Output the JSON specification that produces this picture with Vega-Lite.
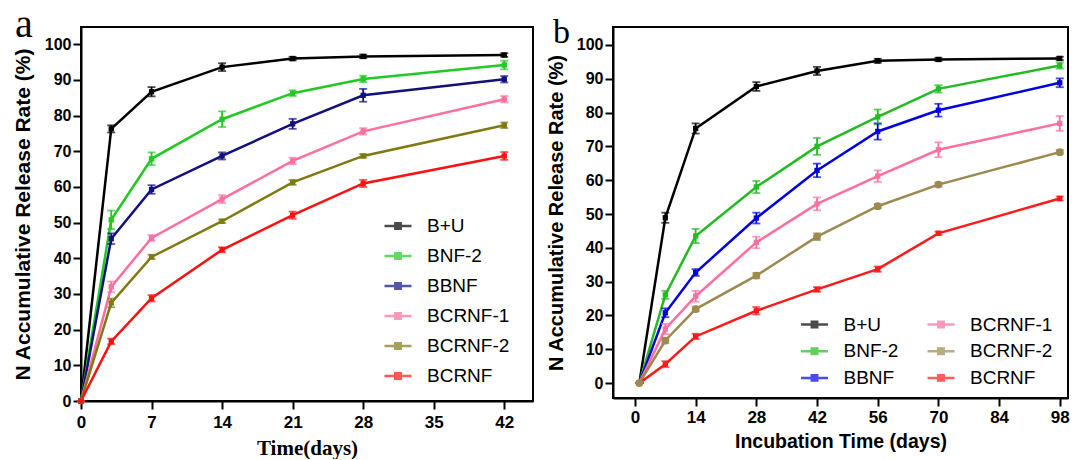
{
  "$schema": "https://vega.github.io/schema/vega-lite/v6.json",
  "padding": {"left": 11, "top": 3, "right": 5, "bottom": 0},
  "spacing": 11,
  "background": "white",
  "resolve": {"scale": {"color": "independent"}, "legend": {"color": "independent"}},
  "datasets": {
    "a": [
      {"s": "B+U", "t": 0, "v": 0, "e": 0}, {"s": "B+U", "t": 3, "v": 76.3, "e": 1.0}, {"s": "B+U", "t": 7, "v": 86.7, "e": 1.3}, {"s": "B+U", "t": 14, "v": 93.6, "e": 1.1}, {"s": "B+U", "t": 21, "v": 96.0, "e": 0.5}, {"s": "B+U", "t": 28, "v": 96.6, "e": 0.5}, {"s": "B+U", "t": 42, "v": 97.0, "e": 0.5},
      {"s": "BNF-2", "t": 0, "v": 0, "e": 0}, {"s": "BNF-2", "t": 3, "v": 50.8, "e": 2.6}, {"s": "BNF-2", "t": 7, "v": 67.9, "e": 1.8}, {"s": "BNF-2", "t": 14, "v": 79.0, "e": 2.2}, {"s": "BNF-2", "t": 21, "v": 86.3, "e": 0.8}, {"s": "BNF-2", "t": 28, "v": 90.3, "e": 0.9}, {"s": "BNF-2", "t": 42, "v": 94.2, "e": 1.2},
      {"s": "BBNF", "t": 0, "v": 0, "e": 0}, {"s": "BBNF", "t": 3, "v": 45.5, "e": 1.5}, {"s": "BBNF", "t": 7, "v": 59.3, "e": 1.2}, {"s": "BBNF", "t": 14, "v": 68.7, "e": 1.0}, {"s": "BBNF", "t": 21, "v": 77.7, "e": 1.4}, {"s": "BBNF", "t": 28, "v": 85.7, "e": 1.8}, {"s": "BBNF", "t": 42, "v": 90.2, "e": 0.9},
      {"s": "BCRNF-1", "t": 0, "v": 0, "e": 0}, {"s": "BCRNF-1", "t": 3, "v": 32.0, "e": 1.5}, {"s": "BCRNF-1", "t": 7, "v": 45.7, "e": 0.8}, {"s": "BCRNF-1", "t": 14, "v": 56.6, "e": 1.1}, {"s": "BCRNF-1", "t": 21, "v": 67.3, "e": 0.9}, {"s": "BCRNF-1", "t": 28, "v": 75.6, "e": 0.9}, {"s": "BCRNF-1", "t": 42, "v": 84.6, "e": 0.9},
      {"s": "BCRNF-2", "t": 0, "v": 0, "e": 0}, {"s": "BCRNF-2", "t": 3, "v": 27.5, "e": 1.2}, {"s": "BCRNF-2", "t": 7, "v": 40.4, "e": 0.6}, {"s": "BCRNF-2", "t": 14, "v": 50.4, "e": 0.5}, {"s": "BCRNF-2", "t": 21, "v": 61.3, "e": 0.7}, {"s": "BCRNF-2", "t": 28, "v": 68.7, "e": 0.5}, {"s": "BCRNF-2", "t": 42, "v": 77.3, "e": 0.8},
      {"s": "BCRNF", "t": 0, "v": 0, "e": 0}, {"s": "BCRNF", "t": 3, "v": 16.7, "e": 0.8}, {"s": "BCRNF", "t": 7, "v": 28.8, "e": 0.9}, {"s": "BCRNF", "t": 14, "v": 42.4, "e": 0.7}, {"s": "BCRNF", "t": 21, "v": 52.1, "e": 1.0}, {"s": "BCRNF", "t": 28, "v": 61.0, "e": 1.0}, {"s": "BCRNF", "t": 42, "v": 68.7, "e": 1.1}
    ],
    "b": [
      {"s": "B+U", "t": 1, "v": 0, "e": 0}, {"s": "B+U", "t": 7, "v": 48.9, "e": 1.5}, {"s": "B+U", "t": 14, "v": 75.3, "e": 1.5}, {"s": "B+U", "t": 28, "v": 87.7, "e": 1.3}, {"s": "B+U", "t": 42, "v": 92.3, "e": 1.2}, {"s": "B+U", "t": 56, "v": 95.3, "e": 0.6}, {"s": "B+U", "t": 70, "v": 95.7, "e": 0.5}, {"s": "B+U", "t": 98, "v": 96.0, "e": 0.5},
      {"s": "BNF-2", "t": 1, "v": 0, "e": 0}, {"s": "BNF-2", "t": 7, "v": 26.1, "e": 1.2}, {"s": "BNF-2", "t": 14, "v": 43.5, "e": 2.1}, {"s": "BNF-2", "t": 28, "v": 58.0, "e": 1.8}, {"s": "BNF-2", "t": 42, "v": 70.0, "e": 2.5}, {"s": "BNF-2", "t": 56, "v": 78.7, "e": 2.2}, {"s": "BNF-2", "t": 70, "v": 87.0, "e": 1.1}, {"s": "BNF-2", "t": 98, "v": 93.9, "e": 0.9},
      {"s": "BBNF", "t": 1, "v": 0, "e": 0}, {"s": "BBNF", "t": 7, "v": 20.8, "e": 1.3}, {"s": "BBNF", "t": 14, "v": 32.7, "e": 1.0}, {"s": "BBNF", "t": 28, "v": 48.8, "e": 1.6}, {"s": "BBNF", "t": 42, "v": 62.9, "e": 2.0}, {"s": "BBNF", "t": 56, "v": 74.4, "e": 2.4}, {"s": "BBNF", "t": 70, "v": 80.7, "e": 1.9}, {"s": "BBNF", "t": 98, "v": 88.8, "e": 1.3},
      {"s": "BCRNF-1", "t": 1, "v": 0, "e": 0}, {"s": "BCRNF-1", "t": 7, "v": 16.0, "e": 1.5}, {"s": "BCRNF-1", "t": 14, "v": 25.7, "e": 1.6}, {"s": "BCRNF-1", "t": 28, "v": 41.6, "e": 1.7}, {"s": "BCRNF-1", "t": 42, "v": 53.0, "e": 1.9}, {"s": "BCRNF-1", "t": 56, "v": 61.2, "e": 1.7}, {"s": "BCRNF-1", "t": 70, "v": 69.0, "e": 2.2}, {"s": "BCRNF-1", "t": 98, "v": 76.8, "e": 2.2},
      {"s": "BCRNF-2", "t": 1, "v": 0, "e": 0}, {"s": "BCRNF-2", "t": 7, "v": 12.6, "e": 0.8}, {"s": "BCRNF-2", "t": 14, "v": 21.9, "e": 0.7}, {"s": "BCRNF-2", "t": 28, "v": 31.8, "e": 0.8}, {"s": "BCRNF-2", "t": 42, "v": 43.3, "e": 1.0}, {"s": "BCRNF-2", "t": 56, "v": 52.3, "e": 0.6}, {"s": "BCRNF-2", "t": 70, "v": 58.7, "e": 0.6}, {"s": "BCRNF-2", "t": 98, "v": 68.3, "e": 0.6},
      {"s": "BCRNF", "t": 1, "v": 0, "e": 0}, {"s": "BCRNF", "t": 7, "v": 5.6, "e": 0.9}, {"s": "BCRNF", "t": 14, "v": 13.8, "e": 0.8}, {"s": "BCRNF", "t": 28, "v": 21.4, "e": 1.1}, {"s": "BCRNF", "t": 42, "v": 27.7, "e": 0.7}, {"s": "BCRNF", "t": 56, "v": 33.7, "e": 0.8}, {"s": "BCRNF", "t": 70, "v": 44.3, "e": 0.5}, {"s": "BCRNF", "t": 98, "v": 54.6, "e": 0.6}
    ]
  },
  "hconcat": [
    {
      "width": 452,
      "height": 374,
      "data": {"name": "a"},
      "title": {"text": "a", "font": "Liberation Serif", "fontSize": 40, "fontWeight": "normal", "color": "black", "anchor": "start", "frame": "group", "offset": 0, "baseline": "alphabetic", "dx": -66, "dy": 49.5},
      "encoding": {
        "x": {"field": "t", "type": "quantitative", "scale": {"domain": [0, 44.85], "nice": false, "zero": false},
              "axis": {"values": [0, 7, 14, 21, 28, 35, 42], "title": "Time(days)", "titleFont": "Liberation Serif", "titleFontSize": 21, "titlePadding": 7, "labelFontSize": 17, "labelPadding": 5, "labelFlush": false}},
        "y": {"field": "v", "type": "quantitative", "scale": {"domain": [0, 104.85], "nice": false, "zero": false},
              "axis": {"values": [0, 10, 20, 30, 40, 50, 60, 70, 80, 90, 100], "title": "N Accumulative Release Rate (%)", "titleFontSize": 21, "titlePadding": 11, "labelPadding": 2, "labelFlush": false}},
        "color": {"field": "s", "type": "nominal",
                  "scale": {"domain": ["B+U", "BNF-2", "BBNF", "BCRNF-1", "BCRNF-2", "BCRNF"], "range": ["#000000", "#22c922", "#10107e", "#ff6f9f", "#7f7a10", "#ff1010"]}}
      },
      "layer": [
        {"mark": {"type": "line", "strokeWidth": 2.5, "clip": false},
         "encoding": {"color": {"field": "s", "type": "nominal", "legend": {"orient": "none", "legendX": 302, "legendY": 184, "title": null, "rowPadding": 5, "symbolType": "M-1,0H1M-0.2,-0.2H0.2V0.2H-0.2Z"}}}},
        {"mark": {"type": "errorbar", "ticks": {"size": 8, "thickness": 1.8}, "thickness": 1.8},
         "encoding": {"yError": {"field": "e"}}},
        {"mark": {"type": "point", "shape": "square", "filled": true, "size": 28, "opacity": 1, "clip": false}}
      ]
    },
    {
      "width": 455,
      "height": 371,
      "data": {"name": "b"},
      "title": {"text": "b", "font": "Liberation Serif", "fontSize": 34, "fontWeight": "normal", "color": "black", "anchor": "start", "frame": "group", "offset": 0, "baseline": "alphabetic", "dx": -60, "dy": 49.5},
      "encoding": {
        "x": {"field": "t", "type": "quantitative", "scale": {"domain": [-5.07, 99.9], "nice": false, "zero": false},
              "axis": {"values": [0, 14, 28, 42, 56, 70, 84, 98], "title": "Incubation Time (days)", "titleFontSize": 19.5, "titlePadding": 7, "labelFontSize": 17, "labelPadding": 3, "labelFlush": false}},
        "y": {"field": "v", "type": "quantitative", "scale": {"domain": [-4.4, 105.3], "nice": false, "zero": false},
              "axis": {"values": [0, 10, 20, 30, 40, 50, 60, 70, 80, 90, 100], "title": "N Accumulative Release Rate (%)", "titleFontSize": 20, "titlePadding": 9.5, "labelPadding": 2, "labelFlush": false}},
        "color": {"field": "s", "type": "nominal",
                  "scale": {"domain": ["B+U", "BNF-2", "BBNF", "BCRNF-1", "BCRNF-2", "BCRNF"], "range": ["#000000", "#22bb22", "#0000e0", "#ff6f9f", "#9c8a50", "#ff1a1a"]}}
      },
      "layer": [
        {"mark": {"type": "line", "strokeWidth": 2.5},
         "encoding": {"color": {"field": "s", "type": "nominal", "legend": {"orient": "none", "legendX": 186.5, "legendY": 282.5, "title": null, "columns": 2, "columnPadding": 23.5, "rowPadding": 1.7, "symbolType": "M-1,0H1M-0.2,-0.2H0.2V0.2H-0.2Z"}}}},
        {"mark": {"type": "errorbar", "ticks": {"size": 8, "thickness": 1.8}, "thickness": 1.8},
         "encoding": {"yError": {"field": "e"}}},
        {"transform": [{"filter": "datum.s != 'BCRNF-2'"}],
         "mark": {"type": "point", "shape": "square", "filled": true, "size": 28, "opacity": 1}},
        {"transform": [{"filter": "datum.s == 'BCRNF-2'"}],
         "mark": {"type": "point", "shape": "circle", "filled": true, "size": 60, "opacity": 1}}
      ]
    }
  ],
  "config": {
    "font": "Liberation Sans",
    "view": {"stroke": "black", "strokeWidth": 2},
    "axis": {"grid": false, "domainColor": "black", "domainWidth": 2, "tickColor": "black", "tickWidth": 2, "tickSize": 8,
             "labelFont": "Liberation Sans", "labelFontWeight": "bold", "labelFontSize": 16, "labelColor": "black",
             "titleColor": "black", "titleFontWeight": "bold"},
    "legend": {"labelFont": "Liberation Sans", "labelFontSize": 19, "labelColor": "black", "symbolSize": 729, "symbolStrokeWidth": 2.5, "padding": 0, "labelOffset": 14}
  }
}
